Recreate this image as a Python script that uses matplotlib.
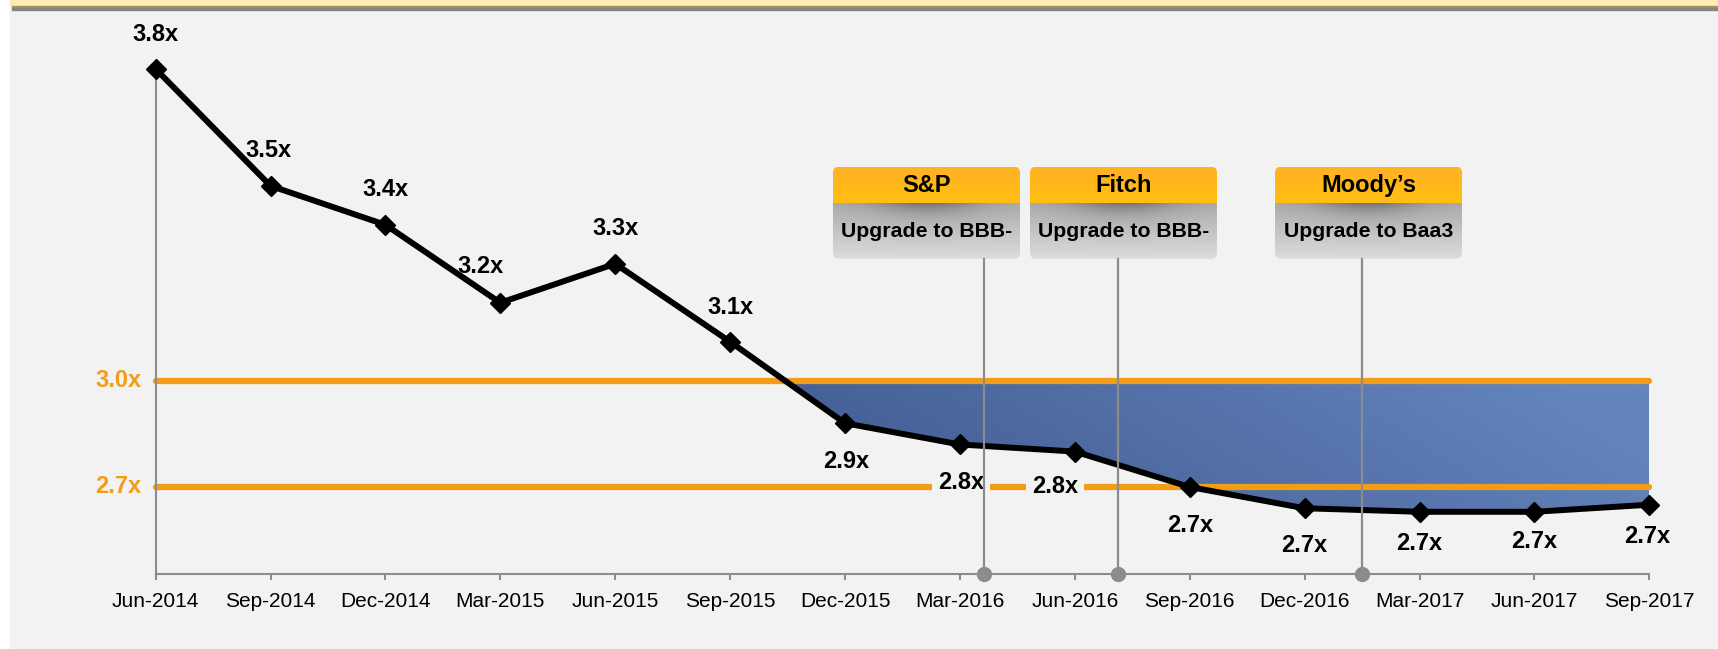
import numpy as np
import matplotlib
matplotlib.use("Agg")
import matplotlib.pyplot as plt
from matplotlib.patches import FancyBboxPatch, Rectangle
from matplotlib.path import Path
from matplotlib.colors import to_rgb
from matplotlib.transforms import blended_transform_factory

plt.rcParams['font.family'] = ['Liberation Sans', 'DejaVu Sans']

# ---------------- data ----------------
periods = ["Jun-2014", "Sep-2014", "Dec-2014", "Mar-2015", "Jun-2015", "Sep-2015", "Dec-2015",
           "Mar-2016", "Jun-2016", "Sep-2016", "Dec-2016", "Mar-2017", "Jun-2017", "Sep-2017"]
leverage = [3.88, 3.55, 3.44, 3.22, 3.33, 3.11, 2.88, 2.82, 2.80, 2.70, 2.64, 2.63, 2.63, 2.65]
value_labels = ["3.8x", "3.5x", "3.4x", "3.2x", "3.3x", "3.1x", "2.9x",
                "2.8x", "2.8x", "2.7x", "2.7x", "2.7x", "2.7x", "2.7x"]
target_levels = [3.0, 2.7]
target_labels = ["3.0x", "2.7x"]
agencies = ["S&P", "Fitch", "Moody\u2019s"]
actions = ["Upgrade to BBB-", "Upgrade to BBB-", "Upgrade to Baa3"]
event_positions = [7.21, 8.38, 10.50]   # position on the quarterly axis

# ---------------- layout / style ----------------
W, H = 1718, 649
BG = '#F2F2F2'
ORANGE = '#F39C16'
GRAY = '#8C8C8C'
label_offsets = [(0, 34), (-2, 35), (0, 35), (-20, 36), (0, 35), (0, 34), (1, -38),
                 (1, -38), (-20, -35), (0, -39), (0, -37), (0, -32), (0, -30), (-2, -32)]
box_lefts = [833, 1030, 1275]
box_top, box_w, head_h, box_h = 166.7, 187, 36, 92
base_px, top_px = 574.3, 26.4
x0_px, x1_px = 155.6, 1649.3

fig = plt.figure(figsize=(W / 100, H / 100), dpi=100)

# background axes in pixel coordinates
bgax = fig.add_axes([0, 0, 1, 1], zorder=0)
bgax.set_xlim(0, W)
bgax.set_ylim(H, 0)
bgax.axis('off')
bgax.add_patch(Rectangle((0, 0), W, H, color='white'))
bgax.add_patch(Rectangle((10, 0), W - 10, H, color=BG))
bgax.add_patch(Rectangle((10, 0), W - 10, 6, color='#FFEBB6'))
bgax.add_patch(Rectangle((12, 6), W - 12, 2, color='#A8915E'))
bgax.add_patch(Rectangle((12, 8), W - 12, 2, color='#858585'))

# rating boxes
for left, ag, act in zip(box_lefts, agencies, actions):
    patch = FancyBboxPatch((left, box_top), box_w, box_h,
                           boxstyle='round,pad=0,rounding_size=6',
                           fc='none', ec='none')
    bgax.add_patch(patch)
    # header gradient
    hy = np.linspace(0, 1, 50)[:, None]
    c0, c1 = np.array(to_rgb('#FFB224')), np.array(to_rgb('#FFBF12'))
    himg = (c0 * (1 - hy) + c1 * hy)[:, None, :].repeat(2, axis=1)
    im1 = bgax.imshow(himg, extent=[left, left + box_w, box_top + head_h, box_top],
                      origin='upper', aspect='auto', zorder=1, interpolation='bilinear')
    im1.set_clip_path(patch)
    # grey body gradient with a shadow under the header
    gy = np.linspace(0, 1, 80)[:, None]
    gx = np.linspace(-1, 1, 120)[None, :]
    top_c, bot_c = np.array(to_rgb('#ABABAB')), np.array(to_rgb('#DCDCDC'))
    base = top_c * (1 - gy[..., None]) + bot_c * gy[..., None]
    shadow = 0.22 * np.exp(-(gx / 0.55) ** 2) * np.exp(-gy / 0.18)
    gimg = np.clip(base - shadow[..., None], 0, 1)
    im2 = bgax.imshow(gimg, extent=[left, left + box_w, box_top + box_h, box_top + head_h],
                      origin='upper', aspect='auto', zorder=1, interpolation='bilinear')
    im2.set_clip_path(patch)
    cx = left + box_w / 2
    bgax.text(cx, box_top + head_h / 2 + 1, ag, ha='center', va='center',
              fontsize=17, fontweight='bold', color='black', zorder=2)
    bgax.text(cx, box_top + head_h + (box_h - head_h) / 2 + 1, act, ha='center', va='center',
              fontsize=15.3, fontweight='bold', color='black', zorder=2)
bgax.set_xlim(0, W)
bgax.set_ylim(H, 0)

# main axes
ax = fig.add_axes([x0_px / W, (H - base_px) / H, (x1_px - x0_px) / W, (base_px - top_px) / H],
                  zorder=1)
ax.patch.set_visible(False)
x = np.arange(len(periods))
y = np.array(leverage)
ymin = 2.4536
ax.set_xlim(0, len(periods) - 1)
ax.set_ylim(ymin, 4.0)

for s in ['top', 'right']:
    ax.spines[s].set_visible(False)
ax.spines['left'].set_color(GRAY)
ax.spines['left'].set_linewidth(1.5)
ax.spines['left'].set_bounds(ymin, leverage[0])
ax.spines['bottom'].set_color(GRAY)
ax.spines['bottom'].set_linewidth(1.5)
ax.set_yticks([])
ax.set_xticks(x, periods)
ax.tick_params(axis='x', length=4.5, width=1.5, color=GRAY, pad=8.5, labelsize=15,
               labelcolor='black')

# gradient fill between line and 3.0 level
poly = ax.fill_between(x, y, target_levels[0], where=y <= target_levels[0], interpolate=True,
                       facecolor='none', edgecolor='none')
clip = Path.make_compound_path(*poly.get_paths())
nx, ny = 300, 60
gx = np.linspace(0, 1, nx)[None, :]
gy = np.linspace(0, 1, ny)[:, None]
c0, c1 = np.array(to_rgb('#3D578C')), np.array(to_rgb('#6484BC'))
t = np.clip(0.85 * gx + 0.25 * gy, 0, 1)
fimg = c0 * (1 - t[..., None]) + c1 * t[..., None]
im = ax.imshow(fimg, extent=[5.5, len(periods) - 1, 2.55, target_levels[0]], origin='lower',
               aspect='auto', zorder=1, interpolation='bilinear')
im.set_clip_path(clip, transform=ax.transData)
ax.set_xlim(0, len(periods) - 1)
ax.set_ylim(ymin, 4.0)

# target levels
for lvl, lab in zip(target_levels, target_labels):
    ax.plot([0, len(periods) - 1], [lvl, lvl], color=ORANGE, lw=4.5,
            solid_capstyle='round', zorder=2, clip_on=False)
    ax.annotate(lab, xy=(0, lvl), xytext=(-14, 0), textcoords='offset pixels',
                ha='right', va='center', fontsize=17, fontweight='bold', color=ORANGE,
                annotation_clip=False)

# leverage line
ax.plot(x, y, color='black', lw=4.3, marker='D', ms=10.5, zorder=4, clip_on=False)

# value labels
for xi, yi, lab, (dx, dy) in zip(x, y, value_labels, label_offsets):
    ax.annotate(lab, xy=(xi, yi), xytext=(dx, dy), textcoords='offset pixels',
                ha='center', va='center', fontsize=17, fontweight='bold', color='black',
                bbox=dict(boxstyle='square,pad=0.25', fc=BG, ec='none'), zorder=3,
                annotation_clip=False)

# rating event markers
trans = blended_transform_factory(ax.transData, bgax.transData)
for ev in event_positions:
    ax.plot([ev, ev], [box_top + box_h, base_px], color=GRAY, lw=1.6, transform=trans,
            zorder=5, clip_on=False)
    ax.plot([ev], [base_px], marker='o', ms=10, color=GRAY, transform=trans,
            zorder=6, clip_on=False)

fig.savefig('out.png', dpi=100, facecolor='white')
